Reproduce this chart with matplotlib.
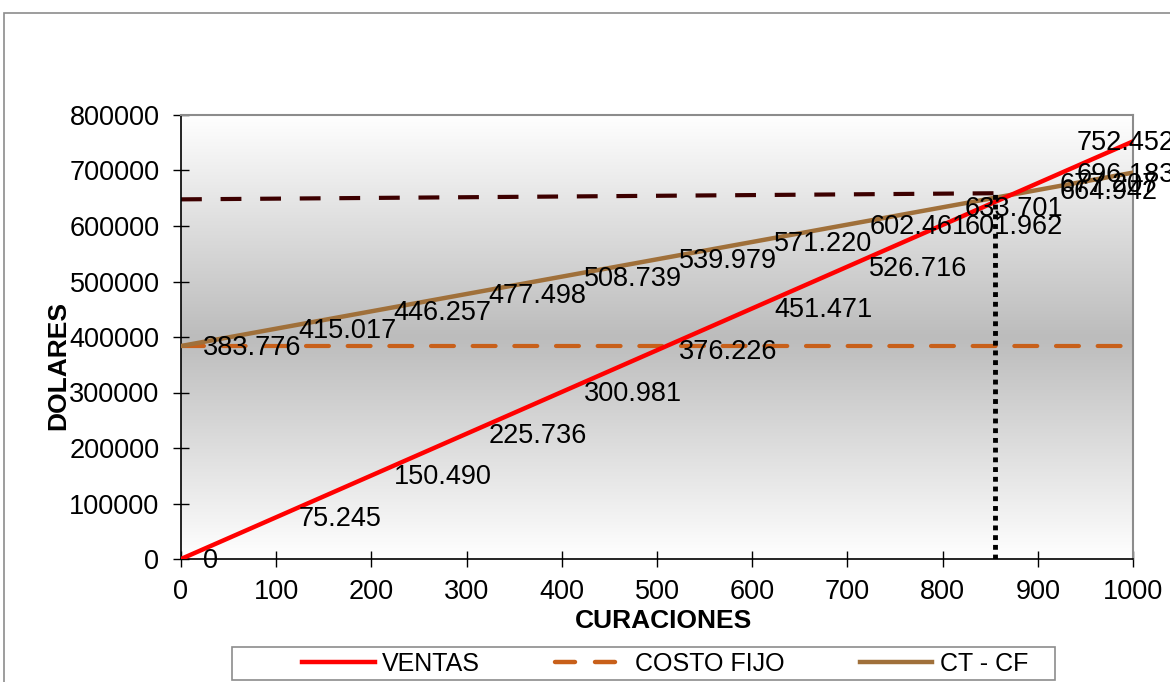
import numpy as np
import matplotlib
matplotlib.use("Agg")
import matplotlib.pyplot as plt
from matplotlib.colors import LinearSegmentedColormap
from matplotlib.patches import Rectangle
from matplotlib.lines import Line2D

plt.rcParams["font.family"] = ["Liberation Sans", "DejaVu Sans"]

# ─── Data ────────────────────────────────────────────────────────────────────
curaciones = [0, 100, 200, 300, 400, 500, 600, 700, 800, 900, 1000]
ventas = [0, 75245, 150490, 225736, 300981, 376226, 451471, 526716,
          601962, 677207, 752452]
costo_fijo = [383776] * 11
ct_cf = [383776, 415017, 446257, 477498, 508739, 539979, 571220, 602461,
         633701, 664942, 696183]

# equilibrium guide lines
eq_x = [0, 855]
eq_y = [648000, 659000]

def fmt(v):
    return f"{v:,}".replace(",", ".")

# ─── Figure ──────────────────────────────────────────────────────────────────
fig = plt.figure(figsize=(11.7, 6.82), dpi=100)
ax = fig.add_axes([181 / 1170, 1 - 559 / 682, 952 / 1170, 444 / 682])

# outer chart border
fig.patches.append(Rectangle((4 / 1170, -0.1), 1.2, 1 - 13 / 682 + 0.1,
                             transform=fig.transFigure, fill=False,
                             edgecolor="#8c8c8c", linewidth=1.2))

# gradient plot area
cmap = LinearSegmentedColormap.from_list(
    "bg", [(0, "#ffffff"), (0.5, "#bcbcbc"), (1, "#ffffff")])
grad = np.linspace(0, 1, 256).reshape(-1, 1)
ax.imshow(grad, cmap=cmap, aspect="auto", extent=[0, 1000, 0, 800000],
          origin="upper", zorder=0)

ax.plot(curaciones, costo_fijo, color="#c8601a", linewidth=3.0,
        dashes=(5.5, 4.5), dash_capstyle="round", zorder=2)
ax.plot(curaciones, ct_cf, color="#a0703a", linewidth=3.2, zorder=3)
ax.plot(curaciones, ventas, color="#ff0000", linewidth=3.2, zorder=4)
ax.plot(eq_x, eq_y, color="#3d0000", linewidth=3.0, dashes=(5, 4.5), zorder=2)
ax.plot([eq_x[1], eq_x[1]], [0, eq_y[1]], color="black", linewidth=3.5,
        dashes=(1, 1), zorder=5)

# data labels
for series in (ventas, ct_cf):
    for i, (x, y) in enumerate(zip(curaciones, series)):
        dx = -56 if i == len(curaciones) - 1 else 22
        ax.annotate(fmt(y), (x, y), xytext=(dx, -2), textcoords="offset pixels",
                    ha="left", va="center", fontsize=19.5, color="black",
                    zorder=6, annotation_clip=False)

ax.set_xlim(0, 1000)
ax.set_ylim(0, 800000)
ax.set_xticks(range(0, 1001, 100))
ax.set_yticks(range(0, 800001, 100000))
ax.tick_params(axis="both", direction="inout", length=11, width=1,
               labelsize=19.5, colors="black")
ax.tick_params(axis="x", pad=9)
ax.tick_params(axis="y", pad=10)

for s in ("left", "bottom"):
    ax.spines[s].set_color("black")
    ax.spines[s].set_linewidth(1.2)
for s in ("top", "right"):
    ax.spines[s].set_color("#8c8c8c")
    ax.spines[s].set_linewidth(1.5)

fig.text(663 / 1170, 1 - 621 / 682, "CURACIONES", ha="center", va="center",
         fontsize=19, fontweight="bold")
fig.text(58 / 1170, 1 - 365 / 682, "DOLARES", ha="center", va="center",
         rotation=90, fontsize=19, fontweight="bold")

# legend
handles = [
    Line2D([], [], color="#ff0000", linewidth=3.2),
    Line2D([], [], color="#c8601a", linewidth=3.2, dashes=(4.5, 4.5),
           dash_capstyle="round"),
    Line2D([], [], color="#a0703a", linewidth=3.2),
]
fig.legend(handles, ["VENTAS", "COSTO FIJO", "CT - CF"], loc="center",
           bbox_to_anchor=(665 / 1170, 1 - 664 / 682), ncol=3, fontsize=18,
           frameon=False, handlelength=2.9, handletextpad=0.3,
           columnspacing=3.0, borderpad=0.1)
fig.patches.append(Rectangle((232 / 1170, 1 - 680 / 682), 823 / 1170,
                             33 / 682, transform=fig.transFigure,
                             fill=False, edgecolor="#8c8c8c", linewidth=1.2))

fig.savefig("out.png", dpi=100, facecolor="white")
